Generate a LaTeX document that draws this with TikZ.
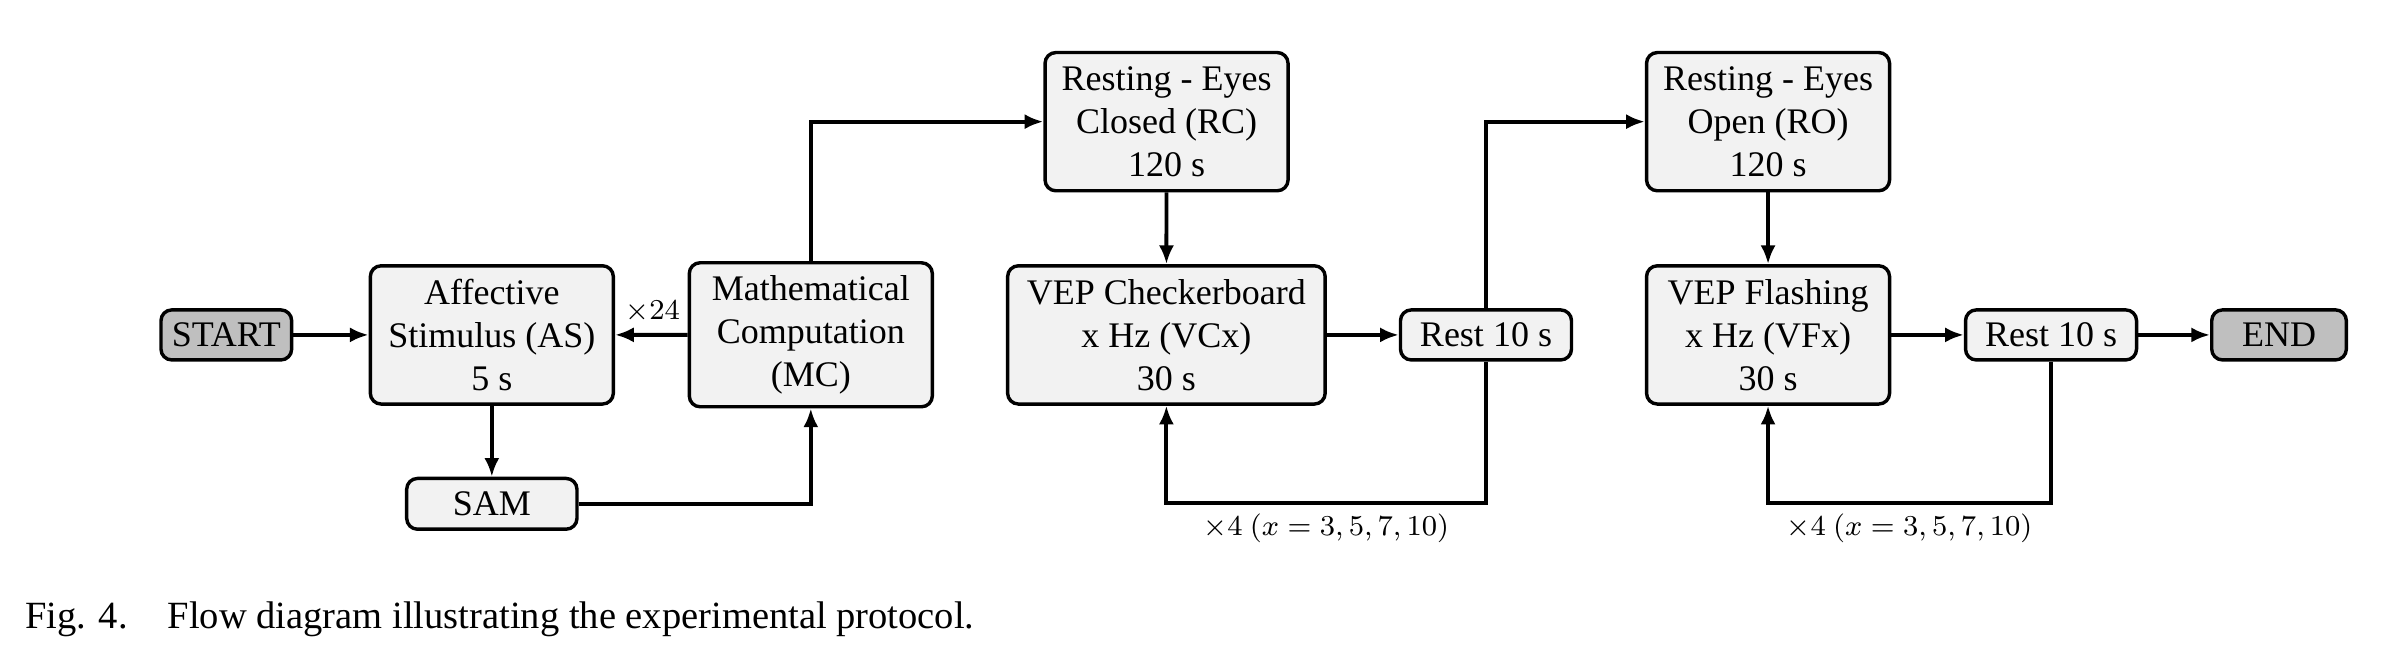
\documentclass[tikz,border=0pt]{standalone}
\usepackage{fontspec}
\setmainfont{Liberation Serif}
\usetikzlibrary{arrows.meta}
\begin{document}
\begin{tikzpicture}[x=0.4219pt,y=-0.4219pt,
  box/.style={draw,line width=0.95pt,rounded corners=3pt,fill=black!5,align=center,inner sep=0pt,
    font=\fontsize{10}{12}\selectfont,minimum width=67.5pt,minimum height=38.4pt},
  small/.style={box,minimum width=47.5pt,minimum height=13.9pt},
  term/.style={box,fill=black!25,minimum height=13.9pt},
  conn/.style={line width=1.1pt,-{Latex[length=5.2pt,width=4.2pt]}},
  lbl/.style={font=\footnotesize,inner sep=0pt},
  captxt/.style={anchor=base west,inner sep=0pt,font=\fontsize{10.7}{13}\selectfont}]
\useasboundingbox (0,0) rectangle (1568.2,434.5);

\node[term,minimum width=36.3pt] (start) at (149,220.5) {START};
\node[box] (as) at (323.8,220.5) {Affective\\Stimulus (AS)\\5 s};
\node[box,minimum height=40pt] (mc) at (533.8,220.4) {Mathematical\\Computation\\(MC)};
\node[small,minimum width=47.3pt,minimum height=14.1pt] (sam) at (323.8,331.7) {SAM};
\node[box] (rc) at (768,80.1) {Resting - Eyes\\Closed (RC)\\120 s};
\node[box,minimum width=88.2pt] (vc) at (767.9,220.5) {VEP Checkerboard\\x Hz (VCx)\\30 s};
\node[small] (rest1) at (978.3,220.5) {Rest 10 s};
\node[box] (ro) at (1164,80.1) {Resting - Eyes\\Open (RO)\\120 s};
\node[box] (vf) at (1164,220.5) {VEP Flashing\\x Hz (VFx)\\30 s};
\node[small] (rest2) at (1350.3,220.5) {Rest 10 s};
\node[term,minimum width=37.4pt] (end) at (1500.4,220.5) {END};

\coordinate (l1) at (978.3,330.9);
\coordinate (l2) at (1350.3,330.9);

\draw[conn] (start) -- (as);
\draw[conn] (mc) -- (as);
\draw[conn] (as) -- (sam);
\draw[conn] (sam) -| (mc);
\draw[conn] (mc) |- (rc);
\draw[conn] (rc) -- (vc);
\draw[conn] (vc) -- (rest1);
\draw[conn] (rest1) |- (ro);
\draw[conn] (rest1) -- (l1) -| (vc);
\draw[conn] (ro) -- (vf);
\draw[conn] (vf) -- (rest2);
\draw[conn] (rest2) -- (end);
\draw[conn] (rest2) -- (l2) -| (vf);

\node[lbl] (n24) at (429.7,205) {$\times 24$};
\node[lbl] (x4a) at (873.2,347.8) {$\times 4$ $(x=3,5,7,10)$};
\node[lbl] (x4b) at (1257.2,347.8) {$\times 4$ $(x=3,5,7,10)$};

\node[captxt] (fig) at (16,413.6) {Fig. 4.};
\node[captxt] (cap) at (110,413.6) {Flow diagram illustrating the experimental protocol.};
\end{tikzpicture}
\end{document}
